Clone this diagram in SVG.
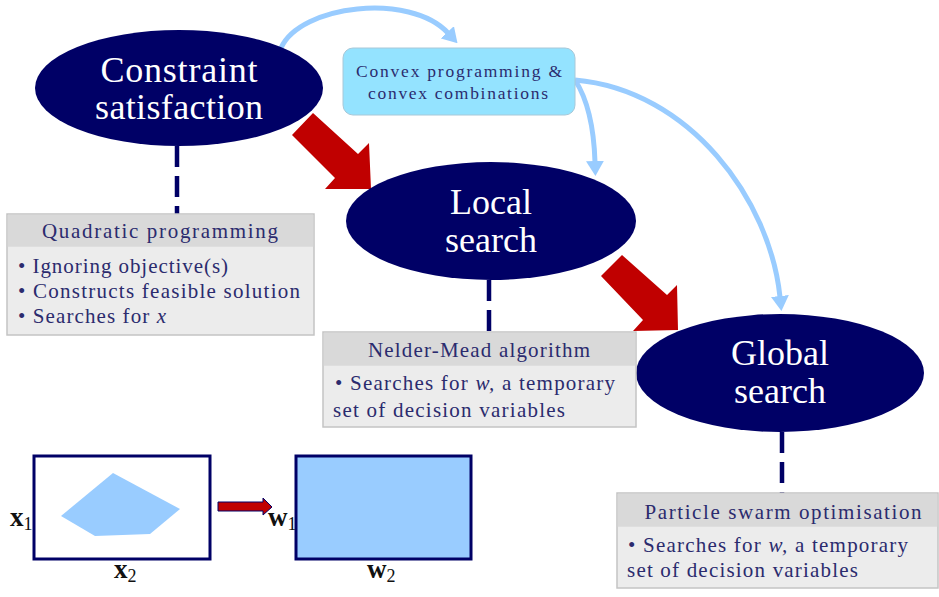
<svg xmlns="http://www.w3.org/2000/svg" width="939" height="597" viewBox="0 0 939 597">
  <style>
    .oval { fill: #000066; }
    .dash { stroke: #000066; stroke-width: 4.5; stroke-dasharray: 21 9; fill: none; }
    .flow { stroke: #99ccff; stroke-width: 5; fill: none; marker-end: url(#blueHead); }
    .big-arrow { fill: #c00000; }
    .card-head { fill: #d9d9d9; }
    .card-body { fill: #ececec; stroke: #c4c4c4; stroke-width: 1.5; }
    .frame { stroke: #000066; stroke-width: 3; }
  </style>
  <defs>
    <marker id="blueHead" viewBox="0 0 15 18" refX="1" refY="9" markerWidth="15" markerHeight="18" markerUnits="userSpaceOnUse" orient="auto">
      <path d="M0,0 L15,9 L0,18 z" fill="#99ccff"/>
    </marker>
  </defs>

  <!-- dashed links from each search stage down to its method card -->
  <g id="connectors">
    <line class="dash" x1="177" y1="146" x2="177" y2="214"/>
    <line class="dash" x1="489" y1="280" x2="489" y2="333"/>
    <line class="dash" x1="782" y1="432" x2="782" y2="493"/>

    <!-- light-blue flow arrows from the convex programming box -->
    <path class="flow" d="M281,48 C300,5 410,-8 448,33"/>
    <path class="flow" d="M575,80 C588,100 594,130 595,162"/>
    <path class="flow" d="M575,80 C690,90 770,200 780,297"/>

    <!-- thick red arrows between stages -->
    <polygon class="big-arrow" points="313,113 358,154 369,143 371,189 325,189 335,178 292,135"/>
    <polygon class="big-arrow" points="622,255 667,295 677,285 678,330 633,331 643,320 601,276"/>
  </g>

  <g id="constraint-satisfaction">
    <ellipse class="oval" cx="179" cy="88" rx="144" ry="58"/>
    <text font-family="Liberation Serif" font-size="36" fill="#ffffff" text-anchor="middle" x="179" y="82" textLength="157" lengthAdjust="spacing">Constraint</text>
    <text font-family="Liberation Serif" font-size="36" fill="#ffffff" text-anchor="middle" x="179" y="119" textLength="168" lengthAdjust="spacing">satisfaction</text>
  </g>

  <g id="local-search">
    <ellipse class="oval" cx="491" cy="221" rx="145" ry="59"/>
    <text font-family="Liberation Serif" font-size="36" fill="#ffffff" text-anchor="middle" x="491" y="214">Local</text>
    <text font-family="Liberation Serif" font-size="36" fill="#ffffff" text-anchor="middle" x="491" y="252">search</text>
  </g>

  <g id="global-search">
    <ellipse class="oval" cx="780" cy="373" rx="144" ry="59"/>
    <text font-family="Liberation Serif" font-size="36" fill="#ffffff" text-anchor="middle" x="780" y="365">Global</text>
    <text font-family="Liberation Serif" font-size="36" fill="#ffffff" text-anchor="middle" x="780" y="403">search</text>
  </g>

  <g id="convex-programming">
    <rect x="343" y="48" width="232" height="67" rx="10" fill="#94e3ff" stroke="#a8c8d8" stroke-width="1"/>
    <text font-family="Liberation Serif" font-size="17.5" fill="#2b2b6e" text-anchor="middle" x="459" y="77" textLength="206" lengthAdjust="spacing">Convex programming  &amp;</text>
    <text font-family="Liberation Serif" font-size="17.5" fill="#2b2b6e" text-anchor="middle" x="458" y="99" textLength="180" lengthAdjust="spacing">convex combinations</text>
  </g>

  <g id="quadratic-programming">
    <rect class="card-body" x="7" y="214" width="307" height="121"/>
    <rect class="card-head" x="7.75" y="214.75" width="305.5" height="32"/>
    <text font-family="Liberation Serif" font-size="21" fill="#2b2b6e" text-anchor="middle" x="160" y="238" textLength="236" lengthAdjust="spacing">Quadratic programming</text>
    <text font-family="Liberation Serif" font-size="21" fill="#2b2b6e" x="18" y="273" textLength="210" lengthAdjust="spacing">• Ignoring objective(s)</text>
    <text font-family="Liberation Serif" font-size="21" fill="#2b2b6e" x="18" y="298" textLength="282" lengthAdjust="spacing">• Constructs feasible solution</text>
    <text font-family="Liberation Serif" font-size="21" fill="#2b2b6e" x="18" y="323" textLength="148" lengthAdjust="spacing">• Searches for <tspan font-style="italic">x</tspan></text>
  </g>

  <g id="nelder-mead">
    <rect class="card-body" x="323" y="332" width="313" height="95"/>
    <rect class="card-head" x="323.75" y="332.75" width="311.5" height="33"/>
    <text font-family="Liberation Serif" font-size="21" fill="#2b2b6e" text-anchor="middle" x="479" y="357" textLength="222" lengthAdjust="spacing">Nelder-Mead algorithm</text>
    <text font-family="Liberation Serif" font-size="21" fill="#2b2b6e" x="335" y="390" textLength="280" lengthAdjust="spacing">• Searches for <tspan font-style="italic">w,</tspan> a temporary</text>
    <text font-family="Liberation Serif" font-size="21" fill="#2b2b6e" x="333" y="417" textLength="232" lengthAdjust="spacing">set of decision variables</text>
  </g>

  <g id="particle-swarm">
    <rect class="card-body" x="617" y="493" width="321" height="95"/>
    <rect class="card-head" x="617.75" y="493.75" width="319.5" height="33"/>
    <text font-family="Liberation Serif" font-size="21" fill="#2b2b6e" text-anchor="middle" x="783" y="519" textLength="277" lengthAdjust="spacing">Particle swarm optimisation</text>
    <text font-family="Liberation Serif" font-size="21" fill="#2b2b6e" x="628" y="552" textLength="280" lengthAdjust="spacing">• Searches for <tspan font-style="italic">w,</tspan> a temporary</text>
    <text font-family="Liberation Serif" font-size="21" fill="#2b2b6e" x="627" y="577" textLength="231" lengthAdjust="spacing">set of decision variables</text>
  </g>

  <!-- sketch: feasible region in x mapped to a box in w -->
  <g id="x-space">
    <rect class="frame" x="34" y="456" width="176" height="103" fill="#ffffff"/>
    <polygon points="113,473 180,509 150,534 95,536 61,516" fill="#99ccff"/>
    <text font-family="Liberation Serif" font-size="27" font-weight="bold" fill="#111111" x="10" y="526">x<tspan font-size="18" font-weight="normal" dy="4">1</tspan></text>
    <text font-family="Liberation Serif" font-size="27" font-weight="bold" fill="#111111" x="114" y="578">x<tspan font-size="18" font-weight="normal" dy="4">2</tspan></text>
  </g>

  <g id="mapping-arrow">
    <polygon points="218,502 263,502 263,498 272,507 263,515 263,511 218,511" fill="#c00000" stroke="#000066" stroke-width="1"/>
  </g>

  <g id="w-space">
    <rect class="frame" x="296" y="456" width="175" height="103" fill="#99ccff"/>
    <text font-family="Liberation Serif" font-size="27" font-weight="bold" fill="#111111" x="268" y="526">w<tspan font-size="18" font-weight="normal" dy="4">1</tspan></text>
    <text font-family="Liberation Serif" font-size="27" font-weight="bold" fill="#111111" x="367" y="578">w<tspan font-size="18" font-weight="normal" dy="4">2</tspan></text>
  </g>
</svg>
